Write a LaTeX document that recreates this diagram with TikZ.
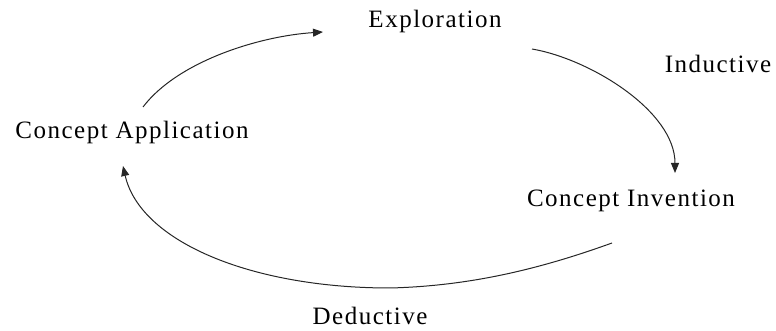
\documentclass[tikz,border=0pt]{standalone}
\usepackage{fontspec}
\setmainfont{Liberation Serif}[LetterSpace=6]
\usepackage{tikz}
\usetikzlibrary{arrows.meta}

\begin{document}
\begin{tikzpicture}[
  x=1pt, y=1pt,
  lbl/.style={inner sep=0pt, anchor=base, font=\fontsize{25}{30}\selectfont},
  cyc/.style={-{Triangle[length=10pt, width=8pt]}, line width=1pt, black!85},
]
  \useasboundingbox (0,0) rectangle (776,331);

  \node[lbl] (exp) at (435,303) {Exploration};
  \node[lbl] (ind) at (718,258) {Inductive};
  \node[lbl] (app) at (132,192) {Concept Application};
  \node[lbl] (inv) at (631,124) {Concept Invention};
  \node[lbl] (ded) at (370,6) {Deductive};

  \coordinate (low) at ([shift={(20,37)}]ded.base);

  \draw[cyc] ([shift={(11,32)}]app.base) .. controls +(35,46) and +(-63,-4) .. ([shift={(-112,-4)}]exp.base);
  \draw[cyc] ([shift={(97,-21)}]exp.base) .. controls +(58,-10) and +(0,62) .. ([shift={(44,34)}]inv.base);
  \draw[cyc] ([shift={(-19,-36)}]inv.base) .. controls +(-72,-26) and +(80,2) .. (low)
    .. controls +(-140,0) and +(17,-75) .. ([shift={(-9,-27)}]app.base);
\end{tikzpicture}
\end{document}
